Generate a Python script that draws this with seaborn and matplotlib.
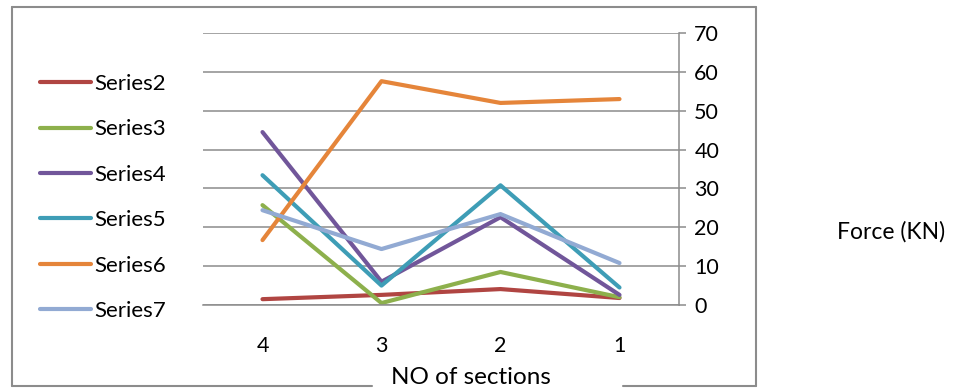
import pandas as pd
import seaborn as sns
import matplotlib.pyplot as plt
from matplotlib.lines import Line2D
from matplotlib.ticker import FixedLocator

sns.set_theme(style='white')
plt.rcParams['font.family'] = ['Lato', 'DejaVu Sans']
plt.rcParams['text.color'] = 'black'
plt.rcParams['xtick.color'] = 'black'
plt.rcParams['ytick.color'] = 'black'

# data
sections = ['4', '3', '2', '1']
series2 = [1.5, 2.6, 4.1, 1.8]
series3 = [25.7, 0.5, 8.5, 2.0]
series4 = [44.5, 6.0, 22.6, 2.6]
series5 = [33.4, 5.0, 30.8, 4.5]
series6 = [16.7, 57.6, 52.0, 53.0]
series7 = [24.4, 14.4, 23.4, 10.8]

names = ['Series2', 'Series3', 'Series4', 'Series5', 'Series6', 'Series7']
colors = ['#B04542', '#8DB04C', '#71569A', '#3E9DB6', '#E5853A', '#92AAD3']

rows = []
for name, vals in zip(names, [series2, series3, series4, series5, series6, series7]):
    for i, v in enumerate(vals):
        rows.append({'pos': i, 'section': sections[i], 'force': v, 'series': name})
df = pd.DataFrame(rows)

fig = plt.figure(figsize=(9.55, 3.92), dpi=100)
ax = fig.add_axes([203 / 955, 1 - 305 / 392, (679 - 203) / 955, (305 - 33) / 392])

sns.lineplot(data=df, x='pos', y='force', hue='series', palette=colors,
             sort=False, linewidth=3.0, ax=ax, legend=True)

ax.set_xlim(-0.5, 3.5)
ax.set_ylim(0, 70)
ax.set_yticks(range(0, 71, 10))
ax.yaxis.tick_right()
ax.grid(axis='y', color='#8C8C8C', linewidth=1.1)
ax.set_axisbelow(True)
for s in ['top', 'left']:
    ax.spines[s].set_visible(False)
for s in ['bottom', 'right']:
    ax.spines[s].set_color('#8C8C8C')
    ax.spines[s].set_linewidth(1.1)

ax.set_xticks(range(4))
ax.set_xticklabels(sections)
ax.xaxis.set_minor_locator(FixedLocator([-0.5, 0.5, 1.5, 2.5, 3.5]))
ax.tick_params(axis='x', which='major', length=0, pad=22, labelsize=15.5)
ax.tick_params(axis='x', which='minor', length=5, color='#8C8C8C', direction='out', width=1.1)
ax.tick_params(axis='y', which='major', length=5, color='#8C8C8C', direction='out',
               width=1.1, labelsize=15.5, pad=6, right=True, left=False)
ax.set_xlabel('')
ax.set_ylabel('')

handles, labels = ax.get_legend_handles_labels()
ax.legend_.remove()
fig.legend(handles, labels, loc='upper left', bbox_to_anchor=(31 / 955, 1 - 65 / 392),
           frameon=False, fontsize=16, handlelength=2.3, handletextpad=0.15,
           labelspacing=1.145, borderaxespad=0)

# chart border, bottom edge broken where the axis title sits
W, H = 955, 392
gray = '#8C8C8C'
segments = [((12, 756), (7, 7)), ((12, 12), (7, 386)), ((756, 756), (7, 386)),
            ((12, 372), (386, 386)), ((623, 756), (386, 386))]
for xs, ys in segments:
    fig.add_artist(Line2D([x / W for x in xs], [1 - y / H for y in ys],
                          transform=fig.transFigure, color=gray, linewidth=1.5))

fig.text(471 / W, 1 - 378 / H, 'NO of sections', ha='center', va='center', fontsize=17.5)
fig.text(891 / W, 1 - 232 / H, 'Force (KN)', ha='center', va='center', fontsize=16.5)

plt.savefig('out.png', dpi=100)
